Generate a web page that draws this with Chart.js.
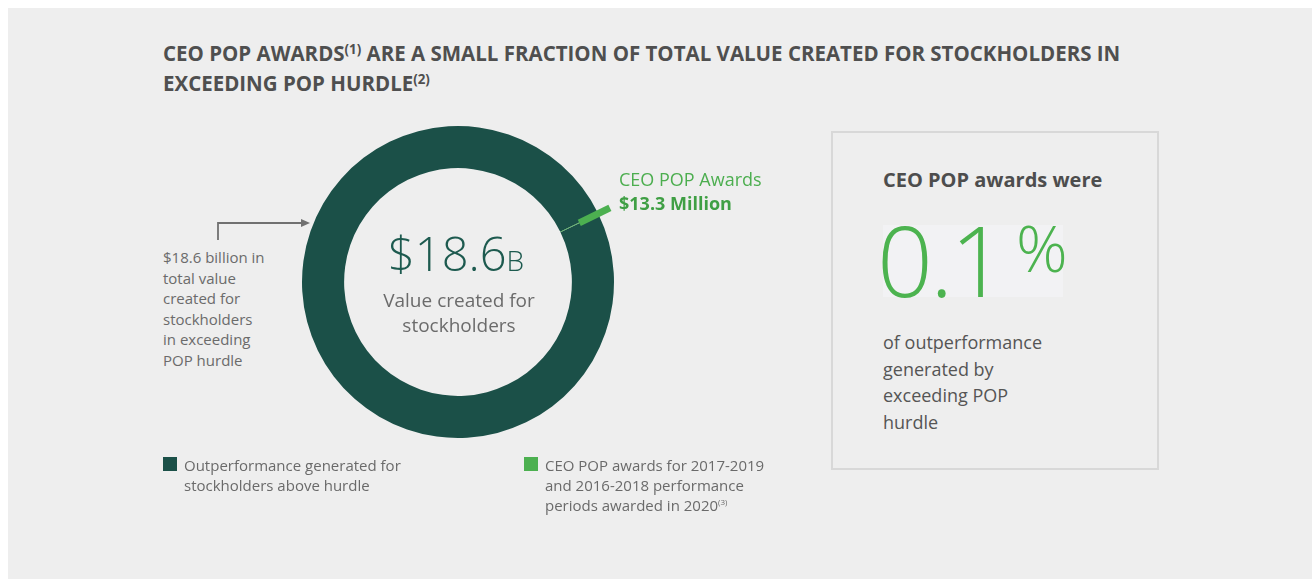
<!DOCTYPE html>
<html>
<head>
<meta charset="utf-8">
<script src="https://cdn.jsdelivr.net/npm/chart.js@4/dist/chart.umd.min.js"></script>
<style>
  html, body { margin: 0; padding: 0; background: #ffffff; }
  body { width: 1312px; height: 579px; position: relative; overflow: hidden; font-family: "Open Sans", sans-serif; }
  #panel { position: absolute; left: 8px; top: 8px; right: 0; bottom: 0; background: #eeeeee; }
  .abs { position: absolute; white-space: nowrap; }
  #title { left: 163px; top: 38px; font-weight: bold; font-size: 21.5px; line-height: 30px; color: #4f4f4f;
           transform: scaleX(0.953); transform-origin: 0 0; }
  #title sup { font-size: 14px; vertical-align: 7px; line-height: 0; }
  #note { left: 163px; top: 247px; font-size: 15px; line-height: 20.6px; color: #6b6b6b; }
  #chartBox { position: absolute; left: 278px; top: 102px; width: 360px; height: 360px; }
  #bigVal { left: 388px; top: 230px; font-size: 47px; line-height: 47px; font-weight: 300; color: #1d5a4f; }
  #bigVal span { font-size: 28px; }
  #valLbl { left: 459px; top: 288px; transform: translateX(-50%); text-align: center; font-size: 19px; line-height: 25px; color: #6b6b6b; }
  #callout { left: 619px; top: 167px; font-size: 18px; line-height: 24px; color: #4cae4f; }
  #callout b { color: #3f9f44; }
  #box { position: absolute; left: 831px; top: 131px; width: 324px; height: 335px; border: 2px solid #d8d8d8; }
  #boxHead { left: 883px; top: 170px; font-size: 20px; line-height: 20px; font-weight: bold; color: #4d4d4d; }
  #pctBg { position: absolute; left: 883px; top: 225px; width: 180px; height: 72px; background: #f2f2f4; }
  #pct { left: 877px; top: 210px; font-size: 98px; line-height: 98px; font-weight: 300; color: #4cb34f; letter-spacing: -3px; }
  #pctSign { left: 1016px; top: 216px; font-size: 64px; line-height: 64px; font-weight: 300; color: #4cb34f; }
  #boxText { left: 883px; top: 329px; font-size: 18px; line-height: 26.7px; color: #555555; }
  .leg { position: absolute; top: 455px; font-size: 15px; line-height: 20px; color: #6a6a6a; }
  .leg i { position: absolute; left: 0; top: 2px; width: 14px; height: 14px; }
  .leg div { margin-left: 21px; white-space: nowrap; }
  .leg sup { font-size: 8px; vertical-align: 6px; line-height: 0; }
</style>
</head>
<body>
<div id="panel"></div>

<div id="title" class="abs">CEO POP AWARDS<sup>(1)</sup> ARE A SMALL FRACTION OF TOTAL VALUE CREATED FOR STOCKHOLDERS IN<br>EXCEEDING POP HURDLE<sup>(2)</sup></div>

<svg class="abs" style="left:0;top:0" width="1312" height="579">
  <polyline points="218,240 218,223 302,223" fill="none" stroke="#707070" stroke-width="1.8"/>
  <polygon points="310,223 301,219 301,227" fill="#707070"/>
</svg>

<div id="note" class="abs">$18.6 billion in<br>total value<br>created for<br>stockholders<br>in exceeding<br>POP hurdle</div>

<div id="chartBox"><canvas id="donut"></canvas></div>

<div id="bigVal" class="abs">$18.6<span>B</span></div>
<div id="valLbl" class="abs">Value created for<br>stockholders</div>
<div id="callout" class="abs">CEO POP Awards<br><b>$13.3 Million</b></div>

<div id="box"></div>
<div id="boxHead" class="abs">CEO POP awards were</div>
<div id="pctBg"></div>
<div id="pct" class="abs">0.1</div>
<div id="pctSign" class="abs">%</div>
<div id="boxText" class="abs">of outperformance<br>generated by<br>exceeding POP<br>hurdle</div>

<div id="legend"></div>

<script>
// values in $ millions
const totalValue = 18600;
const popAward = 13.3;
const sliceLabels = ['Outperformance generated for stockholders above hurdle', 'CEO POP awards for 2017-2019 and 2016-2018 performance periods awarded in 2020'];
const sliceValues = [totalValue - popAward, popAward];
const sliceColors = ['#1b5048', '#4cb050'];
const legendLines = [
  ['Outperformance generated for', 'stockholders above hurdle'],
  ['CEO POP awards for 2017-2019', 'and 2016-2018 performance', 'periods awarded in 2020<sup>(3)</sup>']
];
const legendLeft = [163, 524];

const calloutDeg = 64; // where the award slice sits, clockwise from top
const rotation = calloutDeg - 360 * (sliceValues[0] + sliceValues[1] / 2) / totalValue;

const calloutLine = {
  id: 'calloutLine',
  afterDatasetsDraw(chart) {
    const arc = chart.getDatasetMeta(0).data[1];
    if (!arc) return;
    const p = arc.getProps(['x', 'y', 'startAngle', 'endAngle', 'innerRadius', 'outerRadius'], true);
    const a = (p.startAngle + p.endAngle) / 2;
    const r0 = p.innerRadius + (p.outerRadius - p.innerRadius) * 0.5;
    const r1 = p.outerRadius + 13;
    const ctx = chart.ctx;
    ctx.save();
    ctx.strokeStyle = sliceColors[1];
    ctx.lineWidth = 7;
    ctx.beginPath();
    ctx.moveTo(p.x + Math.cos(a) * r0, p.y + Math.sin(a) * r0);
    ctx.lineTo(p.x + Math.cos(a) * r1, p.y + Math.sin(a) * r1);
    ctx.stroke();
    ctx.restore();
  }
};

const chart = new Chart(document.getElementById('donut'), {
  type: 'doughnut',
  data: {
    labels: sliceLabels,
    datasets: [{
      data: sliceValues,
      backgroundColor: sliceColors,
      borderWidth: 0,
      hoverOffset: 0
    }]
  },
  options: {
    responsive: true,
    maintainAspectRatio: false,
    animation: false,
    events: [],
    cutout: '73%',
    rotation: rotation,
    layout: { padding: 24 },
    plugins: { legend: { display: false }, tooltip: { enabled: false } }
  },
  plugins: [calloutLine]
});

// html legend from the chart's own labels / colours
const legend = document.getElementById('legend');
chart.data.labels.forEach((lbl, i) => {
  const item = document.createElement('div');
  item.className = 'leg';
  item.style.left = legendLeft[i] + 'px';
  item.title = lbl;
  item.innerHTML = '<i style="background:' + chart.data.datasets[0].backgroundColor[i] + '"></i><div>' + legendLines[i].join('<br>') + '</div>';
  legend.appendChild(item);
});
</script>
</body>
</html>
